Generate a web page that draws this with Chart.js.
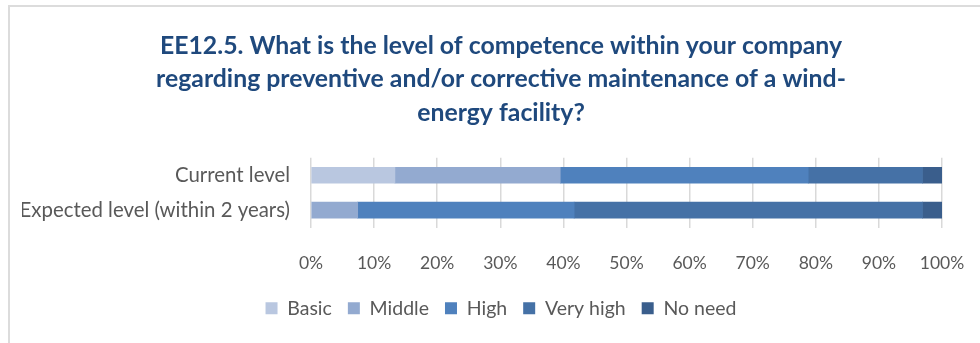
<!DOCTYPE html>
<html lang="en">

<head>
    <meta charset="UTF-8">
    <title>EE12.5 - Competence level</title>
    <script src="https://cdn.jsdelivr.net/npm/chart.js"></script>
    <style>
        body {
            margin: 0;
            background: #ffffff;
        }

        .box {
            position: relative;
            width: 980px;
            height: 343px;
            overflow: hidden;
        }

        /* moldura cinza do grafico do Excel */
        .frame {
            position: absolute;
            left: 8px;
            top: 5px;
            width: 1000px;
            height: 400px;
            border: 2px solid #dcdcdc;
        }

        canvas {
            position: absolute;
            left: 0;
            top: 0;
        }
    </style>
</head>

<body>
    <div class="box">
        <div class="frame"></div>
        <canvas id="myChart" width="980" height="343"></canvas>
    </div>
</body>
<script>
    const categorias = ["Current level", "Expected level (within 2 years)"];
    const basic = [13.3, 0];
    const middle = [26.2, 7.4];
    const high = [39.3, 34.3];
    const veryHigh = [18.1, 55.2];
    const noNeed = [3.1, 3.1];
    const tituloLinhas = [
        "EE12.5. What is the level of competence within your company",
        "regarding preventive and/or corrective maintenance of a wind-",
        "energy facility?"
    ];

    const cinza = "#595959";

    function serie(nome, valores, cor) {
        return {
            label: nome,
            data: valores,
            backgroundColor: cor,
            borderWidth: 0,
            barThickness: 16
        };
    }

    const config = {
        type: "bar",
        data: {
            labels: categorias,
            datasets: [
                serie("Basic", basic, "#B9C7E0"),
                serie("Middle", middle, "#93AAD0"),
                serie("High", high, "#4F81BD"),
                serie("Very high", veryHigh, "#4571A6"),
                serie("No need", noNeed, "#3A5E8C")
            ]
        },
        options: {
            indexAxis: "y",
            responsive: false,
            animation: false,
            layout: {
                // o grafico original continua alem da borda direita, por isso o titulo fica deslocado
                padding: { left: 22, right: 0, top: 0, bottom: 15 }
            },
            plugins: {
                title: {
                    display: true,
                    text: tituloLinhas,
                    color: "#1F497D",
                    font: { family: "Lato", size: 24.8, weight: "bold", lineHeight: 1.355 },
                    padding: { top: 29, bottom: 28 }
                },
                legend: {
                    position: "bottom",
                    labels: {
                        boxWidth: 12,
                        boxHeight: 12,
                        padding: 16,
                        color: cinza,
                        font: { family: "Lato", size: 19.5 }
                    }
                },
                tooltip: { enabled: false }
            },
            scales: {
                x: {
                    stacked: true,
                    min: 0,
                    max: 100,
                    ticks: {
                        stepSize: 10,
                        color: cinza,
                        padding: 25,
                        font: { family: "Lato", size: 17.5 },
                        callback: function (v) { return v + "%"; }
                    },
                    grid: { color: "#d9d9d9", lineWidth: 1.5, drawTicks: false },
                    border: { display: false },
                    afterFit: function (scale) {
                        scale.height = 55;
                        scale.paddingLeft = 0;
                        scale.paddingRight = 0;
                    }
                },
                y: {
                    stacked: true,
                    ticks: {
                        color: cinza,
                        padding: 21,
                        font: { family: "Lato", size: 20.4 }
                    },
                    grid: { display: false, drawTicks: false },
                    border: { display: false },
                    afterFit: function (scale) { scale.width = 289; }
                },
                // eixo vazio so para reservar espaco a direita do 100%
                espaco: {
                    type: "linear",
                    position: "right",
                    display: true,
                    ticks: { display: false },
                    grid: { display: false, drawTicks: false },
                    border: { display: false },
                    afterFit: function (scale) { scale.width = 38; }
                }
            }
        }
    };

    new Chart(document.getElementById("myChart"), config);
</script>

</html>
